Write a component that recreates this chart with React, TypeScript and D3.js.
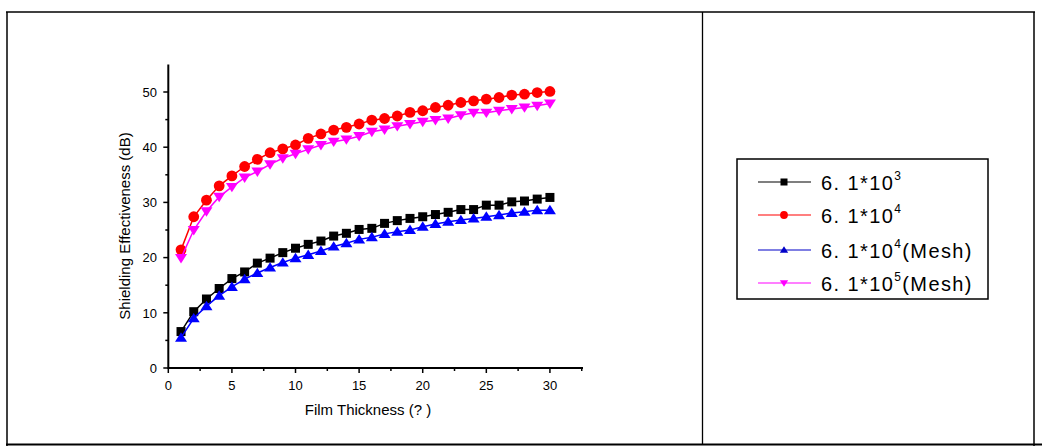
import React from "react";
import * as d3 from "d3";

const thickness = d3.range(1, 31);
const seriesNames = ["6.1*10^3", "6.1*10^4", "6.1*10^4(Mesh)", "6.1*10^5(Mesh)"];
const black3 = [6.6, 10.2, 12.5, 14.4, 16.2, 17.4, 19.0, 19.9, 20.9, 21.7, 22.4, 23.0, 23.9, 24.4, 25.1, 25.3, 26.2, 26.7, 27.1, 27.4, 27.8, 28.2, 28.7, 28.7, 29.5, 29.5, 30.1, 30.25, 30.6, 30.9];
const red4 = [21.4, 27.4, 30.4, 33.0, 34.8, 36.5, 37.8, 39.0, 39.7, 40.4, 41.6, 42.4, 43.1, 43.6, 44.2, 44.9, 45.2, 45.65, 46.3, 46.6, 47.2, 47.6, 48.1, 48.4, 48.7, 49.0, 49.45, 49.6, 49.9, 50.1];
const blueMesh4 = [5.5, 9.0, 11.2, 13.1, 14.7, 16.1, 17.2, 18.2, 19.1, 19.9, 20.5, 21.2, 22.0, 22.6, 23.3, 23.7, 24.3, 24.7, 25.0, 25.6, 26.1, 26.5, 26.8, 27.1, 27.4, 27.7, 28.1, 28.3, 28.6, 28.6];
const magentaMesh5 = [19.9, 25.0, 28.4, 31.0, 32.8, 34.5, 35.6, 36.9, 38.0, 38.8, 39.6, 40.4, 41.0, 41.4, 42.0, 42.8, 43.2, 43.8, 44.2, 44.6, 44.9, 45.2, 45.8, 46.25, 46.25, 46.6, 46.9, 47.2, 47.5, 47.9];
const xMajorTicks = [0, 5, 10, 15, 20, 25, 30];
const xMinorTicks = [2.5, 7.5, 12.5, 17.5, 22.5, 27.5, 32.5];
const yMajorTicks = [0, 10, 20, 30, 40, 50];
const yMinorTicks = [5, 15, 25, 35, 45];

type Series = { base: string; exp: string; suffix: string; values: number[]; color: string; legendColor: string; marker: string };
const series: Series[] = [
  { base: "6. 1*10", exp: "3", suffix: "", values: black3, color: "#000000", legendColor: "#000000", marker: "square" },
  { base: "6. 1*10", exp: "4", suffix: "", values: red4, color: "#ff0000", legendColor: "#ff0000", marker: "circle" },
  { base: "6. 1*10", exp: "4", suffix: "(Mesh)", values: blueMesh4, color: "#0000ff", legendColor: "#0000c8", marker: "triangle" },
  { base: "6. 1*10", exp: "5", suffix: "(Mesh)", values: magentaMesh5, color: "#ff00ff", legendColor: "#ff00ff", marker: "triangleDown" },
];

const FONT = "'Liberation Sans', Arial, sans-serif";

function Marker({ kind, x, y, s, color }: { kind: string; x: number; y: number; s: number; color: string }) {
  if (kind === "square") return <rect x={x - s / 2} y={y - s / 2} width={s} height={s} fill={color} />;
  if (kind === "circle") return <circle cx={x} cy={y} r={s / 2 + 0.4} fill={color} />;
  if (kind === "triangle") {
    const h = s * 0.9;
    return <path d={`M${x},${y - h * 0.6}L${x + s * 0.6},${y + h * 0.45}L${x - s * 0.6},${y + h * 0.45}Z`} fill={color} />;
  }
  const h = s * 0.9;
  return <path d={`M${x},${y + h * 0.6}L${x + s * 0.6},${y - h * 0.45}L${x - s * 0.6},${y - h * 0.45}Z`} fill={color} />;
}

export default function App() {
  const xScale = d3.scaleLinear().domain([0, 32.6]).range([168.3, 583]);
  const yScale = d3.scaleLinear().domain([0, 55]).range([368, 64.4]);
  const line = d3
    .line<number>()
    .x((_, i) => xScale(thickness[i]))
    .y((d) => yScale(d));

  const x0 = xScale(0);
  const y0 = yScale(0);

  const legendX = 737;
  const legendY = 159;
  const legendRows = [182, 215, 250, 283];

  return (
    <svg width={1042} height={448} style={{ position: "absolute", left: 0, top: 0, background: "#fff" }} fontFamily={FONT}>
      <rect x={0} y={0} width={1042} height={448} fill="#ffffff" />
      {/* table borders */}
      <line x1={6} x2={1035} y1={12} y2={12} stroke="#000" strokeWidth={1.5} />
      <line x1={7} x2={7} y1={12} y2={446} stroke="#000" strokeWidth={1.5} />
      <line x1={702.5} x2={702.5} y1={12} y2={444} stroke="#000" strokeWidth={1.3} />
      <line x1={1034} x2={1034} y1={12} y2={446} stroke="#000" strokeWidth={1.5} />
      <line x1={6} x2={1042} y1={444.5} y2={444.5} stroke="#000" strokeWidth={2} />

      {/* series */}
      {series.map((s, si) => (
        <g key={si}>
          <path d={line(s.values) || ""} fill="none" stroke={s.color} strokeWidth={1.5} />
          {s.values.map((v, i) => (
            <Marker key={i} kind={s.marker} x={xScale(thickness[i])} y={yScale(v)} s={s.marker === "square" ? 9 : 10} color={s.color} />
          ))}
        </g>
      ))}

      {/* axes */}
      <line x1={x0} x2={xScale(32.6)} y1={y0} y2={y0} stroke="#000" strokeWidth={2} />
      <line x1={x0} x2={x0} y1={y0 + 1} y2={yScale(55)} stroke="#000" strokeWidth={2} />
      {xMajorTicks.map((t) => (
        <g key={"xM" + t}>
          <line x1={xScale(t)} x2={xScale(t)} y1={y0} y2={y0 + 5} stroke="#000" strokeWidth={1.5} />
          <text x={xScale(t)} y={390} fontSize={13} textAnchor="middle" fill="#000">
            {t}
          </text>
        </g>
      ))}
      {xMinorTicks.map((t) => (
        <line key={"xm" + t} x1={xScale(t)} x2={xScale(t)} y1={y0} y2={y0 + 3} stroke="#000" strokeWidth={1.5} />
      ))}
      {yMajorTicks.map((t) => (
        <g key={"yM" + t}>
          <line x1={x0 - 5} x2={x0} y1={yScale(t)} y2={yScale(t)} stroke="#000" strokeWidth={1.5} />
          <text x={157} y={yScale(t) + 4.7} fontSize={13} textAnchor="end" fill="#000">
            {t}
          </text>
        </g>
      ))}
      {yMinorTicks.map((t) => (
        <line key={"ym" + t} x1={x0 - 3} x2={x0} y1={yScale(t)} y2={yScale(t)} stroke="#000" strokeWidth={1.5} />
      ))}
      <text x={368} y={415} fontSize={15} textAnchor="middle" fill="#000">
        Film Thickness (? )
      </text>
      <text transform={`translate(130,226) rotate(-90)`} fontSize={15} textAnchor="middle" fill="#000">
        Shielding Effectiveness (dB)
      </text>

      {/* legend */}
      <rect x={legendX} y={legendY} width={251} height={140} fill="#fff" stroke="#000" strokeWidth={1.5} />
      {series.map((s, i) => (
        <g key={"lg" + i}>
          <line x1={758} x2={811} y1={legendRows[i]} y2={legendRows[i]} stroke={s.legendColor} strokeWidth={1.2} />
          <Marker kind={s.marker} x={784} y={legendRows[i]} s={7} color={s.legendColor} />
          <text x={821} y={legendRows[i] + 7.5} fontSize={20} letterSpacing={1.4} fill="#000">
            {s.base}
            <tspan fontSize={12} dy={-10}>{s.exp}</tspan>
            <tspan dy={10}>{s.suffix}</tspan>
          </text>
        </g>
      ))}
    </svg>
  );
}
